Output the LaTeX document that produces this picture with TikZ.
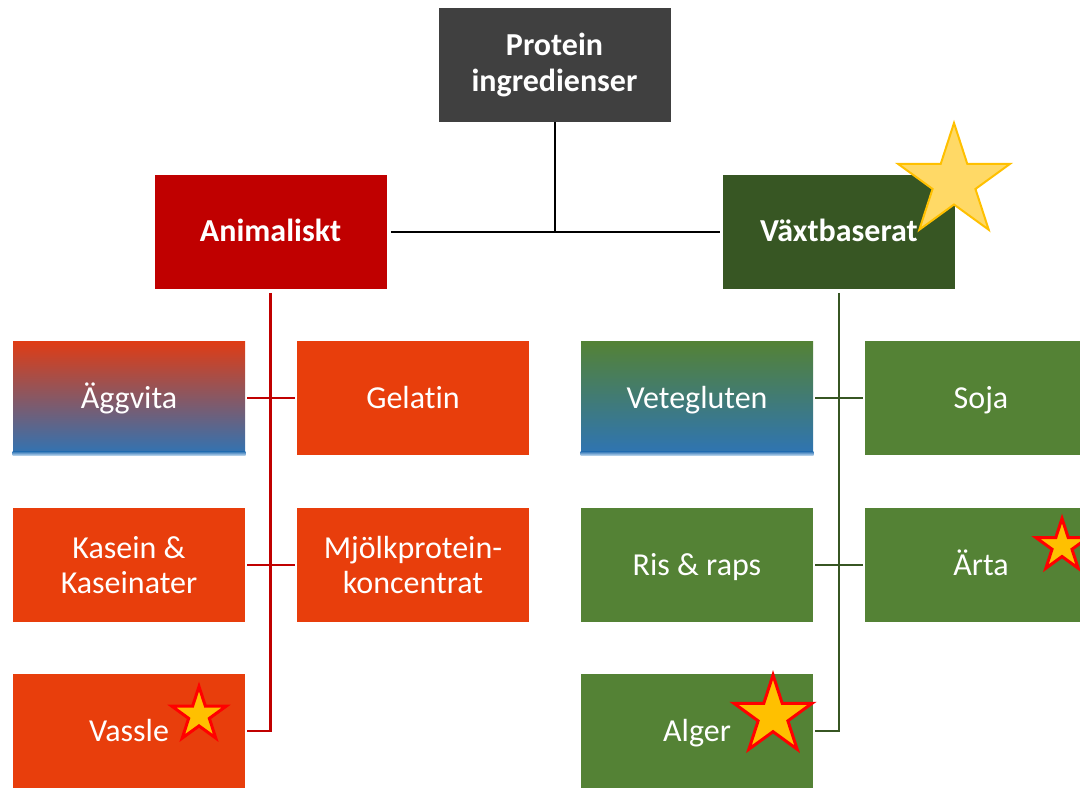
\documentclass[tikz,border=0pt]{standalone}
\usepackage{fontspec}
\setmainfont[Ligatures=NoCommon]{Carlito}
\usetikzlibrary{shapes.geometric}

\definecolor{topgray}{HTML}{404040}
\definecolor{animred}{HTML}{C00000}
\definecolor{vegdark}{HTML}{375623}
\definecolor{animorange}{HTML}{E83E0C}
\definecolor{veggreen}{HTML}{548235}
\definecolor{eggtop}{HTML}{E03C14}
\definecolor{gradblue}{HTML}{2E74B5}
\definecolor{stripblue}{HTML}{BDD7EE}
\definecolor{staryellow}{HTML}{FFD966}
\definecolor{stargold}{HTML}{FFC000}
\definecolor{starred}{HTML}{FF0000}

\tikzset{
  box/.style={text=white, minimum width=116pt, minimum height=57pt, inner sep=0pt,
    align=center, font=\fontsize{16}{17.5}\selectfont},
  oneline/.style={text height=14pt, text depth=4pt},
  headbox/.style={box, font=\bfseries\fontsize{16}{18}\selectfont},
  animbox/.style={box, fill=animorange},
  vegbox/.style={box, fill=veggreen},
  topline/.style={draw=black, line width=1pt},
  animline/.style={draw=animred, line width=1.25pt},
  vegline/.style={draw=vegdark, line width=1.25pt},
  bigstar/.style={star, star points=5, star point ratio=2.618, inner sep=0pt,
    fill=staryellow, draw=stargold, line width=1pt},
  smallstar/.style={star, star points=5, star point ratio=2.618, inner sep=0pt,
    fill=stargold, draw=starred, line width=1.5pt}
}

\begin{document}
\begin{tikzpicture}[x=0.5pt,y=-0.5pt]
  \useasboundingbox (0,0) rectangle (1080,787);
  \clip (0,0) rectangle (1080,787);
  % top levels
  \path (554.5,64.5) node[headbox, fill=topgray] (top) {Protein\\ingredienser}
  (270.5,231.5) node[headbox, oneline, fill=animred] (anim) {Animaliskt}
  (839,231.5) node[headbox, oneline, fill=vegdark] (veg) {V\"axtbaserat};
  % animal side
  \path (129,398) node[box, oneline, top color=eggtop, bottom color=gradblue] (agg) {\"Aggvita}
  (413,398) node[animbox, oneline] (gel) {Gelatin}
  (129,565) node[animbox] (kas) {Kasein \&\\Kaseinater}
  (413,565) node[animbox] (mjo) {Mj\"olkprotein-\\koncentrat}
  (129,731) node[animbox, oneline] (vas) {Vassle};
  % plant side
  \path (697,398) node[box, oneline, top color=veggreen, bottom color=gradblue] (vet) {Vetegluten}
  (981,398) node[vegbox, oneline] (soj) {Soja}
  (697,565) node[vegbox, oneline] (ris) {Ris \& raps}
  (981,565) node[vegbox, oneline] (art) {\"Arta}
  (697,731) node[vegbox, oneline] (alg) {Alger};
  \shade[top color=gradblue, bottom color=stripblue] (agg.south west) ++(0,-4) rectangle (agg.south east);
  \shade[top color=gradblue, bottom color=stripblue] (vet.south west) ++(0,-4) rectangle (vet.south east);
  % connectors
  \draw[topline] (top.south) -- (top.south |- anim.east);
  \draw[topline] ([xshift=2pt]anim.east) -- ([xshift=-1.5pt]veg.west);
  \draw[animline] ([yshift=-2pt]anim.south) |- ([xshift=1pt]vas.east);
  \draw[animline] ([xshift=1pt]agg.east) -- ([xshift=-1pt]gel.west);
  \draw[animline] ([xshift=1pt]kas.east) -- ([xshift=-1pt]mjo.west);
  \draw[vegline] ([yshift=-2pt]veg.south) |- ([xshift=1pt]alg.east);
  \draw[vegline] ([xshift=1pt]vet.east) -- ([xshift=-1pt]soj.west);
  \draw[vegline] ([xshift=1pt]ris.east) -- ([xshift=-1pt]art.west);
  % stars
  \node[bigstar, minimum size=59pt] (starveg) at (954,182) {};
  \node[smallstar, minimum size=28.5pt] (starvas) at (199,715) {};
  \node[smallstar, minimum size=41pt] (staralg) at (773,716) {};
  \node[smallstar, minimum size=27.5pt] (starart) at (1062,546) {};
\end{tikzpicture}
\end{document}
